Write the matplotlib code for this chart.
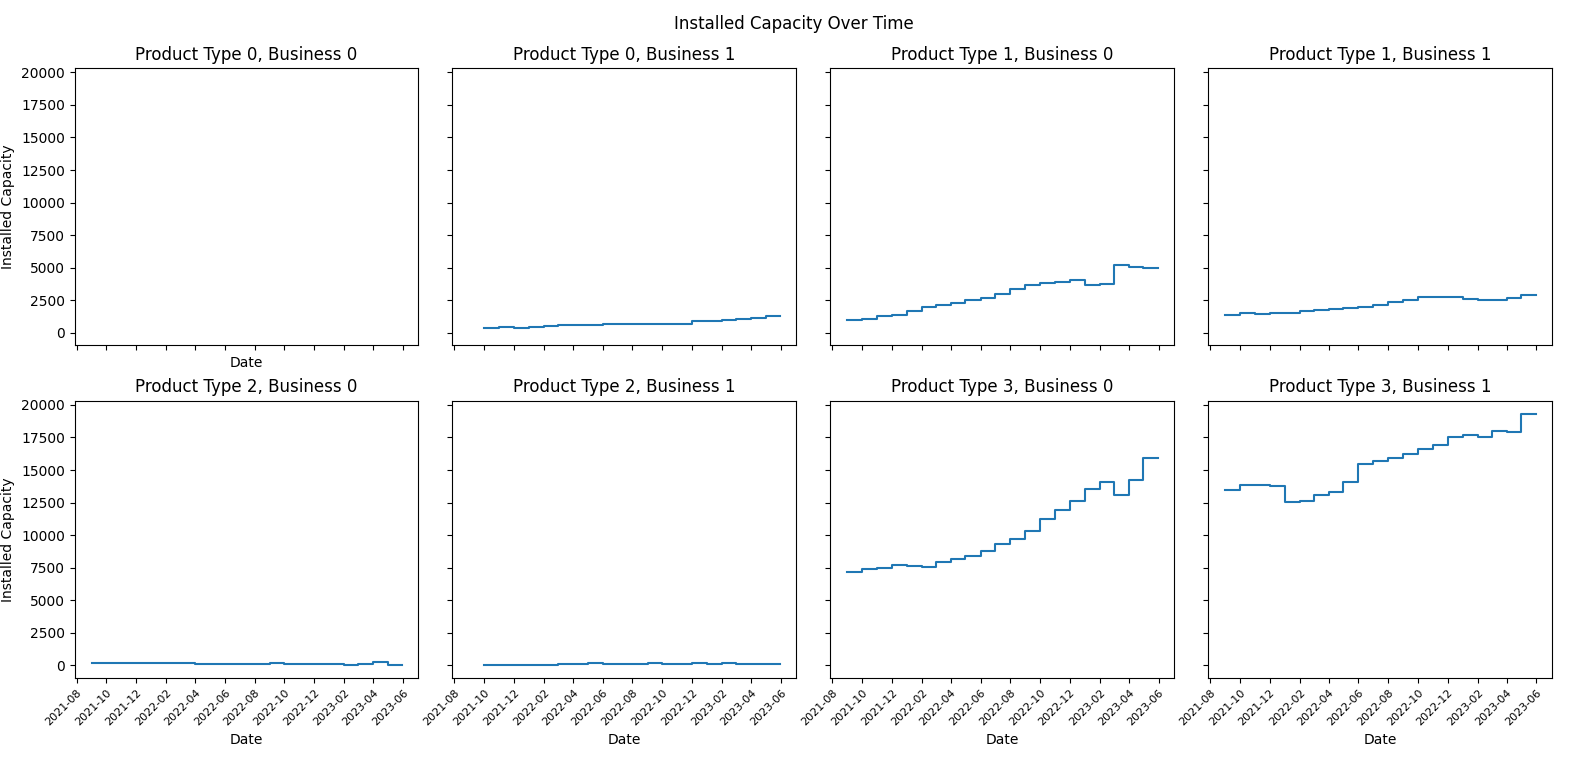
import matplotlib
matplotlib.use("Agg")
import matplotlib.pyplot as plt
import matplotlib.dates as mdates
import numpy as np
import pandas as pd

months = pd.date_range("2021-09-01", "2023-05-01", freq="MS").tolist() + [pd.Timestamp("2023-05-31")]

p0b0 = [np.nan]*21
p0b1 = [np.nan, 400, 450, 400, 450, 550, 560, 600, 620, 650, 650, 650, 650, 660, 700, 900, 920, 1000, 1050, 1150, 1250]
p1b0 = [950, 1050, 1250, 1350, 1650, 1950, 2100, 2300, 2500, 2700, 3000, 3350, 3700, 3800, 3900, 4040, 3650, 3750, 5200, 5050, 4950]
p1b1 = [1400, 1550, 1450, 1550, 1500, 1650, 1750, 1850, 1900, 2000, 2100, 2350, 2550, 2750, 2750, 2750, 2600, 2550, 2550, 2700, 2900]
p2b0 = [180, 170, 160, 150, 160, 170, 140, 120, 110, 120, 110, 100, 150, 110, 90, 100, 80, 60, 70, 250, 50]
p2b1 = [np.nan, 0, 10, 60, 30, 50, 80, 120, 160, 80, 100, 120, 150, 100, 80, 160, 100, 180, 90, 100, 80]
p3b0 = [7200, 7400, 7450, 7700, 7600, 7550, 7900, 8200, 8400, 8800, 9300, 9700, 10300, 11200, 11950, 12600, 13550, 14050, 13100, 14200, 15950]
p3b1 = [13450, 13850, 13850, 13800, 12550, 12650, 13100, 13300, 14100, 15500, 15700, 15950, 16250, 16600, 16900, 17500, 17700, 17500, 18000, 17900, 19300]

series = [p0b0, p0b1, p1b0, p1b1, p2b0, p2b1, p3b0, p3b1]
titles = [f"Product Type {t}, Business {b}" for t in range(4) for b in range(2)]

fig, axes = plt.subplots(2, 4, figsize=(15.87, 7.65), dpi=100, sharex=True, sharey=True)
fig.subplots_adjust(left=0.047, right=0.978, top=0.911, bottom=0.114, wspace=0.099, hspace=0.2)
fig.suptitle("Installed Capacity Over Time", fontsize=12)

for i, ax in enumerate(axes.flat):
    vals = list(series[i])
    y = vals + [vals[-1]]
    ax.plot(months, y, drawstyle="steps-post", color="#1f77b4", lw=1.5)
    ax.set_title(titles[i], fontsize=12)
    if i % 4 == 0:
        ax.set_ylabel("Installed Capacity")
    if i >= 4 or i == 0:
        ax.set_xlabel("Date")

axes[0, 0].set_ylim(-960, 20330)
axes[0, 0].set_yticks(np.arange(0, 20001, 2500))
axes[0, 0].set_xlim(pd.Timestamp("2021-07-28"), pd.Timestamp("2023-07-03"))
axes[0, 0].xaxis.set_major_locator(mdates.MonthLocator(bymonth=[2, 4, 6, 8, 10, 12]))
axes[0, 0].xaxis.set_major_formatter(mdates.DateFormatter("%Y-%m"))
for ax in axes[1]:
    for lab in ax.get_xticklabels():
        lab.set_rotation(45)
        lab.set_ha("right")
        lab.set_rotation_mode("anchor")
        lab.set_fontsize(8)

fig.savefig("out.png")
